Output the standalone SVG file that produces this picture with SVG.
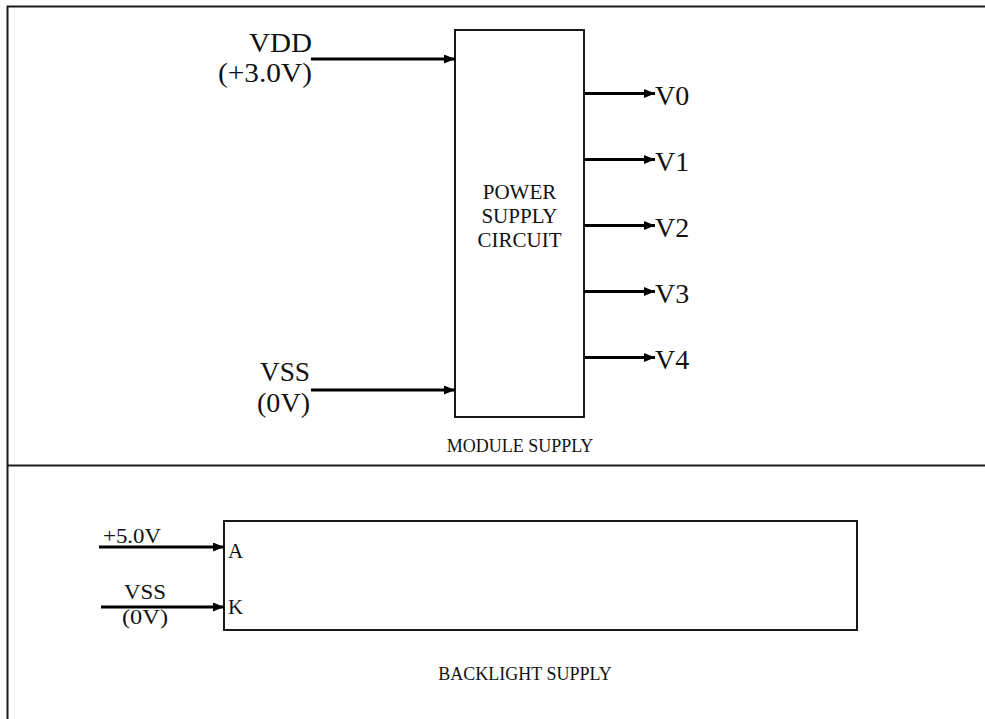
<svg xmlns="http://www.w3.org/2000/svg" width="985" height="719" viewBox="0 0 985 719">
<style>
.frame{stroke:#1a1a1a;stroke-width:2;fill:none}
.box{stroke:#000;stroke-width:1.8;fill:#fff}
.wire{stroke:#000;stroke-width:2.8;fill:none}
.t{font-family:"Liberation Serif","Times New Roman",serif;fill:#111}
.big{font-size:27px}
.out{font-size:28px}
.mid{font-size:21px}
.sm{font-size:18px}
</style>
<defs>
<marker id="arr" viewBox="0 0 11 9" refX="11" refY="4.5" markerWidth="11" markerHeight="9" markerUnits="userSpaceOnUse" orient="auto">
<path d="M0,0 L11,4.5 L0,9 z" fill="#000"/>
</marker>
</defs>
<g id="frame">
<path class="frame" d="M7.5,719 V6.5 H985"/>
<path class="frame" d="M7.5,465.5 H985"/>
</g>
<g id="power-supply">
<rect class="box" x="455" y="30" width="129" height="387"/>
<text class="t mid" text-anchor="middle" x="519.5" y="199">POWER</text>
<text class="t mid" text-anchor="middle" x="519.5" y="223">SUPPLY</text>
<text class="t mid" text-anchor="middle" x="519.5" y="247">CIRCUIT</text>
</g>
<g id="vdd-label">
<text class="t big" text-anchor="end" x="312" y="52" textLength="63" lengthAdjust="spacingAndGlyphs">VDD</text>
<text class="t big" text-anchor="end" x="312" y="82" textLength="94" lengthAdjust="spacingAndGlyphs">(+3.0V)</text>
</g>
<g id="vss-label">
<text class="t big" text-anchor="end" x="310" y="381" textLength="50" lengthAdjust="spacingAndGlyphs">VSS</text>
<text class="t big" text-anchor="end" x="310" y="412" textLength="53" lengthAdjust="spacingAndGlyphs">(0V)</text>
</g>
<g id="outputs">
<text class="t out" x="655" y="105">V0</text>
<text class="t out" x="655" y="171">V1</text>
<text class="t out" x="655" y="237">V2</text>
<text class="t out" x="655" y="303">V3</text>
<text class="t out" x="655" y="369">V4</text>
</g>
<g id="module-supply-label">
<text class="t sm" text-anchor="middle" x="520" y="452">MODULE SUPPLY</text>
</g>
<g id="backlight">
<rect class="box" x="224" y="521" width="633" height="109"/>
<text class="t mid" x="228" y="558">A</text>
<text class="t mid" x="228" y="614">K</text>
</g>
<g id="backlight-labels">
<text class="t mid" x="103" y="543" textLength="58" lengthAdjust="spacingAndGlyphs">+5.0V</text>
<text class="t mid" text-anchor="middle" x="145" y="599" textLength="42" lengthAdjust="spacingAndGlyphs">VSS</text>
<text class="t mid" text-anchor="middle" x="145" y="624" textLength="46" lengthAdjust="spacingAndGlyphs">(0V)</text>
</g>
<g id="backlight-supply-label">
<text class="t sm" text-anchor="middle" x="525" y="680">BACKLIGHT SUPPLY</text>
</g>
<g id="connectors">
<line class="wire" x1="311" y1="59" x2="455" y2="59" marker-end="url(#arr)"/>
<line class="wire" x1="311" y1="390" x2="455" y2="390" marker-end="url(#arr)"/>
<line class="wire" x1="584" y1="93.5" x2="655" y2="93.5" marker-end="url(#arr)"/>
<line class="wire" x1="584" y1="159.5" x2="655" y2="159.5" marker-end="url(#arr)"/>
<line class="wire" x1="584" y1="225.5" x2="655" y2="225.5" marker-end="url(#arr)"/>
<line class="wire" x1="584" y1="291.5" x2="655" y2="291.5" marker-end="url(#arr)"/>
<line class="wire" x1="584" y1="357.5" x2="655" y2="357.5" marker-end="url(#arr)"/>
<line class="wire" x1="99" y1="547" x2="224" y2="547" marker-end="url(#arr)"/>
<line class="wire" x1="101" y1="607" x2="224" y2="607" marker-end="url(#arr)"/>
</g>
</svg>
